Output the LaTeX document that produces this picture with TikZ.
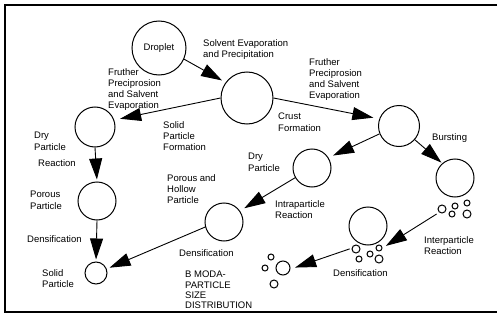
\documentclass[tikz,border=0pt]{standalone}
\usepackage{fontspec}
\setmainfont{Liberation Sans}
\usetikzlibrary{arrows.meta}
\begin{document}
\begin{tikzpicture}[x=1pt,y=-1pt,
  circ/.style={draw,circle,line width=1pt,inner sep=0pt},
  lbl/.style={anchor=north west,align=left,inner sep=0pt,font=\fontsize{9.5}{11.3}\selectfont},
  arr/.style={line width=0.9pt,-{Triangle[length=21pt,width=13pt]}}]
\useasboundingbox (0,0) rectangle (498,321);
\draw[line width=1.3pt] (497,5) -- (5,5) -- (5,312) -- (497,312);
% circles
\node[circ,minimum size=54pt,font=\fontsize{9.5}{11}\selectfont] (drop) at (159,48) {Droplet};
\node[circ,minimum size=52pt] (cen) at (247,98) {};
\node[circ,minimum size=40pt] (dryL) at (95,127) {};
\node[circ,minimum size=38pt] (porL) at (97,201) {};
\node[circ,minimum size=22pt] (solid) at (96,273) {};
\node[circ,minimum size=41pt] (R) at (399,126) {};
\node[circ,minimum size=38pt] (burst) at (455,178) {};
\node[circ,minimum size=38pt] (dryM) at (312,168) {};
\node[circ,minimum size=38pt] (hollow) at (224,222) {};
\node[circ,minimum size=38pt] (dens) at (368,226) {};
% small circles below bursting
\node[circ,minimum size=8pt] (b1) at (442,209) {};
\node[circ,minimum size=6pt] (b2) at (455,206) {};
\node[circ,minimum size=6pt] (b3) at (467,203) {};
\node[circ,minimum size=6pt] (b4) at (452,214) {};
\node[circ,minimum size=8pt] (b5) at (467,214) {};
% small circles below densification
\node[circ,minimum size=8pt] (d1) at (356,249) {};
\node[circ,minimum size=6pt] (d2) at (359,259) {};
\node[circ,minimum size=6pt] (d3) at (370,254) {};
\node[circ,minimum size=6pt] (d4) at (379,248) {};
\node[circ,minimum size=8pt] (d5) at (379,259) {};
% final cluster
\node[circ,minimum size=6pt] (f1) at (271,257) {};
\node[circ,minimum size=6pt] (f2) at (265,268) {};
\node[circ,minimum size=14pt] (f3) at (283,268) {};
\node[circ,minimum size=8pt] (f4) at (274,284) {};
% arrows
\draw[arr,shorten >=4pt] (drop.-24) -- (cen.144);
\draw[arr,shorten >=6pt] (cen.180) -- (dryL.20);
\draw[arr,shorten >=6pt] (cen.0) -- (R.160);
\draw[arr,shorten >=5pt] (R.202) -- (dryM.32);
\draw[arr,shorten >=1pt] (R.-41) -- (burst.131);
\draw[arr,shorten >=2pt] (dryL.south) -- (porL.north);
\draw[arr,shorten >=2pt] (porL.south) -- (solid.north);
\draw[arr,shorten >=3pt] (hollow.195) -- (solid.21);
\draw[arr,shorten >=5pt] (dryM.210) -- (hollow.35);
\draw[arr,shorten <=3pt,shorten >=4pt] (b1.230) -- (d4.0);
\draw[arr,shorten <=2pt,shorten >=5pt] (d1.170) -- (f3.-9);
% labels
\node[lbl] (t1) at (203,39) {Solvent Evaporation\\and Precipitation};
\node[lbl] (t2) at (108,68) {Fruther\\Preciprosion\\and Salvent\\Evaporation};
\node[lbl] (t3) at (309,58) {Fruther\\Preciprosion\\and Salvent\\Evaporation};
\node[lbl] (t4) at (163,121) {Solid\\Particle\\Formation};
\node[lbl] (t5) at (278,113) {Crust\\Formation};
\node[lbl] (t6) at (432,133) {Bursting};
\node[lbl] (t7) at (34,132) {Dry\\Particle};
\node[lbl] (t8) at (38,159) {Reaction};
\node[lbl] (t9) at (30,191) {Porous\\Particle};
\node[lbl] (t10) at (27,235) {Densification};
\node[lbl] (t11) at (42,269) {Solid\\Particle};
\node[lbl] (t12) at (167,174) {Porous and\\Hollow\\Particle};
\node[lbl] (t13) at (179,249) {Densification};
\node[lbl,font=\fontsize{9.5}{10.3}\selectfont] (t14) at (185,271) {B MODA-\\PARTICLE\\SIZE\\DISTRIBUTION};
\node[lbl] (t15) at (248,153) {Dry\\Particle};
\node[lbl] (t16) at (275,200) {Intraparticle\\Reaction};
\node[lbl] (t17) at (424,236) {Interparticle\\Reaction};
\node[lbl] (t18) at (333,269) {Densification};
\end{tikzpicture}
\end{document}
